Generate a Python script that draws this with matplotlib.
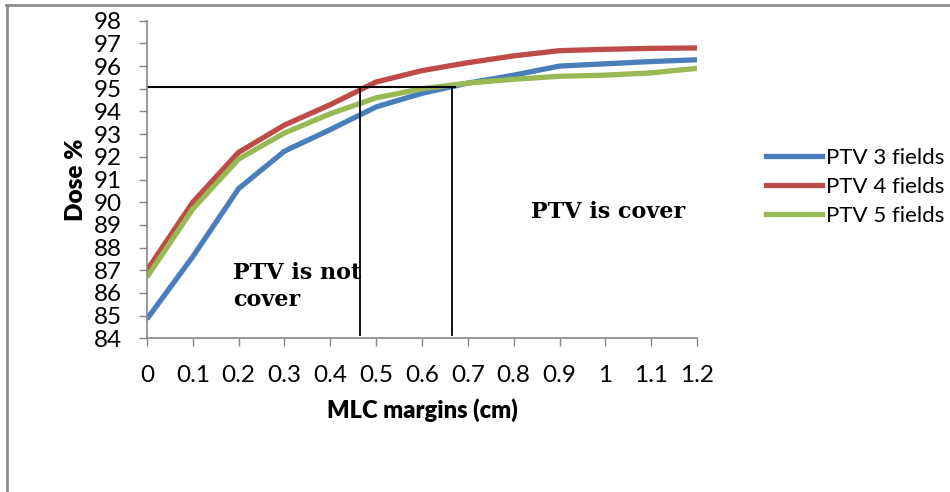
"""Dose coverage of the PTV versus MLC margin for 3, 4 and 5 field plans."""

import matplotlib.pyplot as plt
from matplotlib.lines import Line2D

MARGINS = [0, 0.1, 0.2, 0.3, 0.4, 0.5, 0.6, 0.7, 0.8, 0.9, 1.0, 1.1, 1.2]
PTV_3 = [84.85, 87.6, 90.6, 92.25, 93.2, 94.2, 94.8, 95.25, 95.6, 96.0, 96.1, 96.2, 96.28]
PTV_4 = [87.0, 90.0, 92.2, 93.4, 94.3, 95.3, 95.8, 96.15, 96.45, 96.68, 96.74, 96.78, 96.8]
PTV_5 = [86.7, 89.7, 91.9, 93.05, 93.9, 94.6, 95.0, 95.25, 95.42, 95.55, 95.6, 95.7, 95.9]
SERIES = ["PTV 3 fields", "PTV 4 fields", "PTV 5 fields"]
COLORS = ["#4A7EBB", "#BE4B48", "#98B954"]

# 95 % dose threshold and the two margins where the curves reach it
THRESHOLD = 95.07
CROSS_X = [0.465, 0.665]
LINE_END = 0.672

X_TICKS = [0, 0.1, 0.2, 0.3, 0.4, 0.5, 0.6, 0.7, 0.8, 0.9, 1.0, 1.1, 1.2]
X_LABELS = ["0", "0.1", "0.2", "0.3", "0.4", "0.5", "0.6", "0.7", "0.8", "0.9", "1", "1.1", "1.2"]
Y_TICKS = list(range(84, 99))

plt.rcParams["font.family"] = ["Lato", "DejaVu Sans"]

fig = plt.figure(figsize=(9.5, 4.92), dpi=100)
ax = fig.add_axes([0.1547, 0.3124, 0.579, 0.6455])

for values, name, color in zip([PTV_3, PTV_4, PTV_5], SERIES, COLORS):
    ax.plot(MARGINS, values, color=color, lw=3.8, label=name,
            solid_capstyle="butt", solid_joinstyle="round")

# threshold guide lines
ax.plot([0, LINE_END], [THRESHOLD, THRESHOLD], color="black", lw=1.5)
for cx in CROSS_X:
    ax.plot([cx, cx], [THRESHOLD, 84.15], color="black", lw=1.3)

ax.set_xlim(0, 1.2)
ax.set_ylim(84, 98)
ax.set_xticks(X_TICKS)
ax.set_xticklabels(X_LABELS)
ax.set_yticks(Y_TICKS)
ax.tick_params(axis="both", labelsize=17.5, color="#868686", length=6, width=1)
ax.tick_params(axis="x", pad=13)
ax.tick_params(axis="y", pad=12)
for side in ["top", "right"]:
    ax.spines[side].set_visible(False)
for side in ["left", "bottom"]:
    ax.spines[side].set_color("#868686")
    ax.spines[side].set_linewidth(1.2)

ax.set_xlabel("MLC margins (cm)", fontsize=17, fontweight="heavy", labelpad=9)
ax.set_ylabel("Dose %", fontsize=17.5, fontweight="heavy", labelpad=5)

ax.text(0.188, 87.35, "PTV is not\ncover", fontsize=16, fontweight="bold",
        family="DejaVu Serif", va="top", linespacing=1.3)
ax.text(0.838, 89.57, "PTV is cover", fontsize=16, fontweight="bold",
        family="DejaVu Serif", va="center")

handles = [Line2D([], [], color=c, lw=3.8) for c in COLORS]
fig.legend(handles, SERIES, loc="center left", bbox_to_anchor=(0.797, 0.62),
           frameon=False, fontsize=16, handlelength=2.5, handletextpad=0.2,
           labelspacing=0.4, borderaxespad=0)

# outer chart frame (runs off the right and bottom edges)
fig.add_artist(Line2D([0.0075, 0.0075], [0.0, 0.99], color="#8c8c8c", lw=2,
                      transform=fig.transFigure))
fig.add_artist(Line2D([0.0065, 1.0], [0.99, 0.99], color="#8c8c8c", lw=2,
                      transform=fig.transFigure))

fig.savefig("out.png", dpi=100)
